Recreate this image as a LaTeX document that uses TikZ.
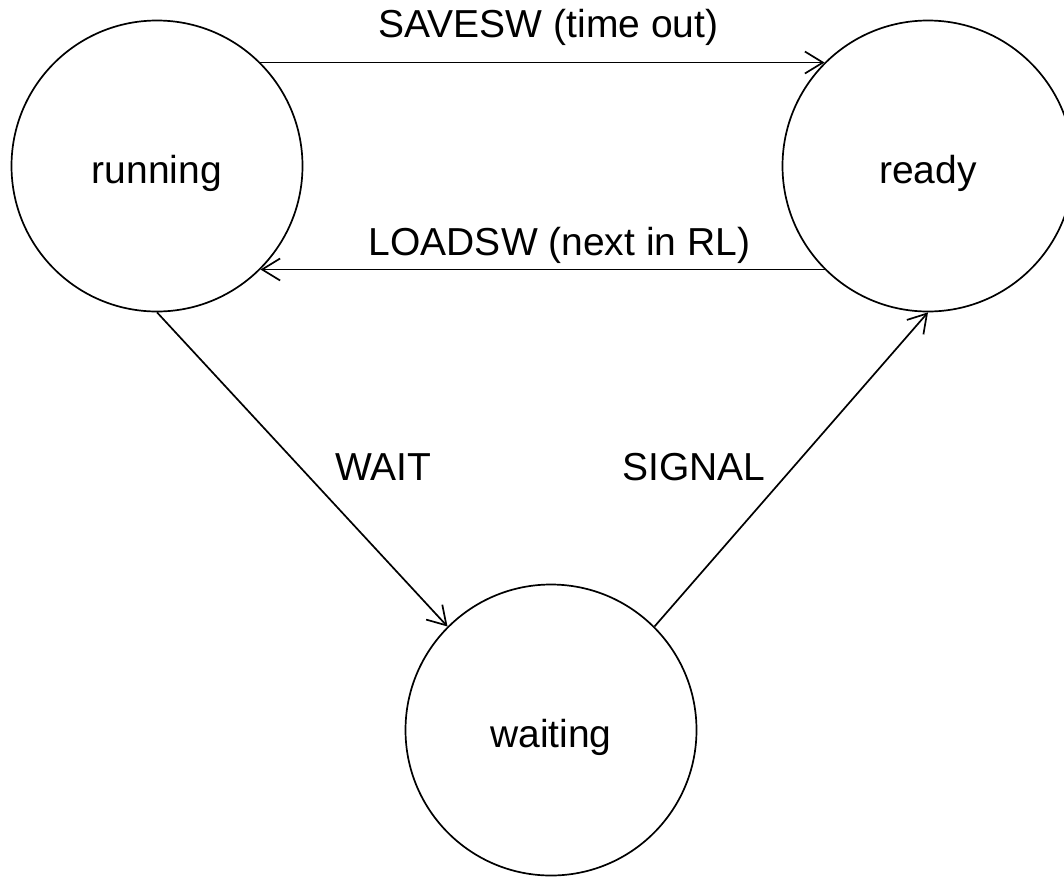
\documentclass[tikz,border=0pt]{standalone}
\usepackage{fontspec}
\setmainfont{Liberation Sans}
\usetikzlibrary{arrows.meta}

\begin{document}
\begin{tikzpicture}[x=1pt,y=-1pt,line width=1.7pt,
    >={Straight Barb[length=18pt,width=22pt]},
    font=\fontsize{39}{47}\selectfont]
  \useasboundingbox (0,0) rectangle (1064,876);
  \tikzstyle{state}=[draw,shape=circle,minimum size=291pt,inner sep=0pt,
                     text height=35pt,text depth=0pt]
  \tikzstyle{lbl}=[inner sep=0pt]
  \path (157,166) node[state] (running) {running};
  \path (928,166) node[state] (ready) {ready};
  \path (551,730) node[state] (waiting) {waiting};

  \draw [->] (running.45) -- (ready.135)
        node[lbl,midway,anchor=south,xshift=6pt,yshift=16pt] (savesw) {SAVESW (time out)};
  \draw [->] (ready.-135) -- (running.-45)
        node[lbl,midway,anchor=south,xshift=17pt,yshift=5pt] (loadsw) {LOADSW (next in RL)};
  \draw [->] (running.south) -- (waiting.135)
        node[lbl,midway,anchor=west,xshift=32pt,yshift=2pt] (wait) {WAIT};
  \draw [->] (waiting.45) -- (ready.south)
        node[lbl,midway,anchor=east,xshift=-25pt,yshift=2pt] (signal) {SIGNAL};
\end{tikzpicture}
\end{document}
